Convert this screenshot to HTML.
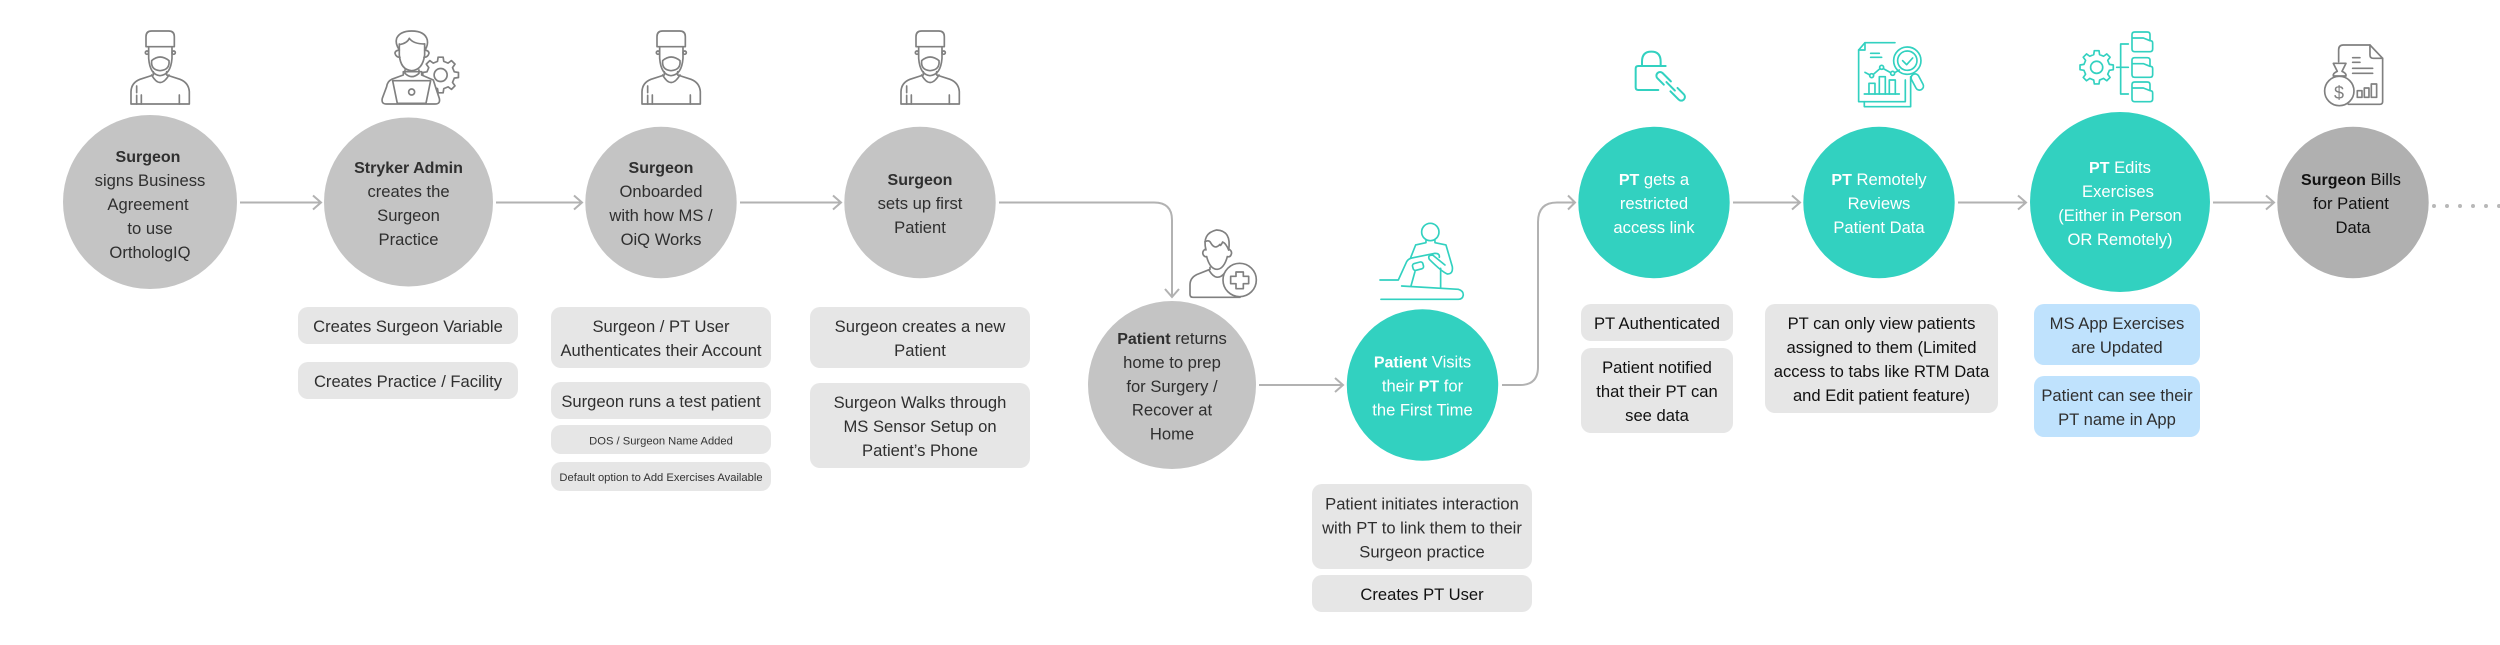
<!DOCTYPE html>
<html><head><meta charset="utf-8"><style>
html,body{margin:0;padding:0;background:#fff;width:2500px;height:645px;overflow:hidden}
svg{display:block}
text{font-family:"Liberation Sans",sans-serif;font-size:16.6px;text-anchor:middle;fill:#2f2f2f}
.w{fill:#fff}
.k{fill:#111}
.s{font-size:11.2px;fill:#333}
.b{font-weight:700;font-size:16px}
.i{fill:none;stroke:#808080;stroke-width:5;stroke-linecap:round;stroke-linejoin:round}
.t{fill:none;stroke:#32d1c0;stroke-width:5;stroke-linecap:round;stroke-linejoin:round}
.c{fill:none;stroke:#b2b2b2;stroke-width:2}
</style></head><body>
<svg width="2500" height="645" viewBox="0 0 2500 645" xmlns="http://www.w3.org/2000/svg">
<defs>
<g id="surg">
<path d="M78,80V50Q78,33 95,33H146Q163,33 163,50V80Z"/>
<path d="M86,80V115Q90,165 120,167Q152,165 156,115V80"/>
<path d="M95,122Q120,100 147,122Q150,150 120,152Q92,150 95,122Z"/>
<circle cx="81" cy="98" r="5"/><circle cx="161" cy="98" r="5"/>
<path d="M100,155V165L60,178Q34,188 33,215V252H208V215Q206,188 180,178L140,165V155"/>
<path d="M95,165Q120,210 147,165"/>
<path d="M50,198V218M50,226V252M64,225V252M178,225V252"/>
</g>
<polygon id="gear" points="13.64,-3.15 17.83,-2.5 17.83,2.5 13.64,3.15 11.87,7.42 14.38,10.84 10.84,14.38 7.42,11.87 3.15,13.64 2.5,17.83 -2.5,17.83 -3.15,13.64 -7.42,11.87 -10.84,14.38 -14.38,10.84 -11.87,7.42 -13.64,3.15 -17.83,2.5 -17.83,-2.5 -13.64,-3.15 -11.87,-7.42 -14.38,-10.84 -10.84,-14.38 -7.42,-11.87 -3.15,-13.64 -2.5,-17.83 2.5,-17.83 3.15,-13.64 7.42,-11.87 10.84,-14.38 14.38,-10.84 11.87,-7.42"/>
<path id="fold" d="M224,36H262Q270,36 270,44V62H271Q278,62 278,69V87Q278,95 270,95H224Q216,95 216,87V44Q216,36 224,36ZM216,54H250L270,62"/>
</defs>

<!-- circles -->
<circle cx="150" cy="202" r="87" fill="#c4c4c4"/>
<circle cx="408.5" cy="202" r="84.5" fill="#c4c4c4"/>
<circle cx="661" cy="202.500" r="75.700" fill="#c4c4c4"/>
<circle cx="920" cy="202.500" r="75.700" fill="#c4c4c4"/>
<circle cx="1172" cy="385" r="84" fill="#c4c4c4"/>
<circle cx="1422.500" cy="385" r="75.700" fill="#32d1c0"/>
<circle cx="1654" cy="202.500" r="75.700" fill="#32d1c0"/>
<circle cx="1879" cy="202.500" r="75.700" fill="#32d1c0"/>
<circle cx="2120" cy="202" r="90" fill="#32d1c0"/>
<circle cx="2353" cy="202.500" r="75.700" fill="#b0b0b0"/>

<!-- connectors -->
<path class="c" d="M240,202.500H320M313,195.500L321,202.500L313,209.500"/>
<path class="c" d="M496,202.500H581M574,195.500L582,202.500L574,209.500"/>
<path class="c" d="M740,202.500H840M833,195.500L841,202.500L833,209.500"/>
<path class="c" d="M999,202.500H1154Q1172,202.500 1172,220V296M1165,289L1172,297L1179,289"/>
<path class="c" d="M1259,385H1342M1335,378L1343,385L1335,392"/>
<path class="c" d="M1502,385H1520Q1538,385 1538,367V222Q1538,202.500 1557,202.500H1574M1568,195.500L1575,202.500L1568,209.500"/>
<path class="c" d="M1733,202.500H1799M1792,195.500L1800,202.500L1792,209.500"/>
<path class="c" d="M1958,202.500H2025M2018,195.500L2026,202.500L2018,209.500"/>
<path class="c" d="M2213,202.500H2273M2266,195.500L2274,202.500L2266,209.500"/>
<g fill="#b8b8b8"><circle cx="2434" cy="206" r="2"/><circle cx="2447" cy="206" r="2"/><circle cx="2460" cy="206" r="2"/><circle cx="2473" cy="206" r="2"/><circle cx="2486" cy="206" r="2"/><circle cx="2499" cy="206" r="2"/></g>

<!-- boxes -->
<g fill="#e6e6e6">
<rect x="298" y="307" width="220" height="37" rx="10"/>
<rect x="298" y="362" width="220" height="37" rx="10"/>
<rect x="551" y="307" width="220" height="61" rx="10"/>
<rect x="551" y="382" width="220" height="37" rx="10"/>
<rect x="551" y="425" width="220" height="29" rx="10"/>
<rect x="551" y="462" width="220" height="29" rx="10"/>
<rect x="810" y="307" width="220" height="61" rx="10"/>
<rect x="810" y="383" width="220" height="85" rx="10"/>
<rect x="1312" y="484" width="220" height="85" rx="10"/>
<rect x="1312" y="575" width="220" height="37" rx="10"/>
<rect x="1581" y="304" width="152" height="37" rx="10"/>
<rect x="1581" y="348" width="152" height="85" rx="10"/>
<rect x="1765" y="304" width="233" height="109" rx="10"/>
</g>
<g fill="#bfe2fd">
<rect x="2034" y="304" width="166" height="61" rx="10"/>
<rect x="2034" y="376" width="166" height="61" rx="10"/>
</g>

<!-- circle text -->
<text x="148" y="162" class="b">Surgeon</text>
<text x="150" y="186">signs Business</text>
<text x="148" y="210">Agreement</text>
<text x="150" y="234">to use</text>
<text x="150" y="258">OrthologIQ</text>

<text x="408.500" y="173" class="b">Stryker Admin</text>
<text x="408.500" y="197">creates the</text>
<text x="408.500" y="221">Surgeon</text>
<text x="408.500" y="245">Practice</text>

<text x="661" y="173" class="b">Surgeon</text>
<text x="661" y="197">Onboarded</text>
<text x="661" y="221">with how MS /</text>
<text x="661" y="245">OiQ Works</text>

<text x="920" y="185" class="b">Surgeon</text>
<text x="920" y="209">sets up first</text>
<text x="920" y="233">Patient</text>

<text x="1172" y="344"><tspan class="b">Patient</tspan> returns</text>
<text x="1172" y="368">home to prep</text>
<text x="1172" y="392">for Surgery /</text>
<text x="1172" y="415.500">Recover at</text>
<text x="1172" y="439.500">Home</text>

<text x="1422.500" y="367.500" class="w"><tspan class="b">Patient</tspan> Visits</text>
<text x="1422.500" y="391.500" class="w">their <tspan class="b">PT</tspan> for</text>
<text x="1422.500" y="415.500" class="w">the First Time</text>

<text x="1654" y="185" class="w"><tspan class="b">PT</tspan> gets a</text>
<text x="1654" y="209" class="w">restricted</text>
<text x="1654" y="233" class="w">access link</text>

<text x="1879" y="185" class="w"><tspan class="b">PT</tspan> Remotely</text>
<text x="1879" y="209" class="w">Reviews</text>
<text x="1879" y="233" class="w">Patient Data</text>

<text x="2120" y="173" class="w"><tspan class="b">PT</tspan> Edits</text>
<text x="2118" y="197" class="w">Exercises</text>
<text x="2120" y="221" class="w">(Either in Person</text>
<text x="2120" y="245" class="w">OR Remotely)</text>

<text x="2351" y="185" class="k"><tspan class="b">Surgeon</tspan> Bills</text>
<text x="2351" y="209" class="k">for Patient</text>
<text x="2353" y="233" class="k">Data</text>

<!-- box text -->
<text x="408" y="332">Creates Surgeon Variable</text>
<text x="408" y="387">Creates Practice / Facility</text>
<text x="661" y="332">Surgeon / PT User</text>
<text x="661" y="356">Authenticates their Account</text>
<text x="661" y="407">Surgeon runs a test patient</text>
<text x="661" y="444.500" class="s">DOS / Surgeon Name Added</text>
<text x="661" y="481" class="s">Default option to Add Exercises Available</text>
<text x="920" y="332">Surgeon creates a new</text>
<text x="920" y="356">Patient</text>
<text x="920" y="408">Surgeon Walks through</text>
<text x="920" y="432">MS Sensor Setup on</text>
<text x="920" y="456">Patient’s Phone</text>
<text x="1422" y="509.500">Patient initiates interaction</text>
<text x="1422" y="533.500">with PT to link them to their</text>
<text x="1422" y="557.500">Surgeon practice</text>
<text x="1422" y="600" class="k">Creates PT User</text>
<text x="1657" y="329" class="k">PT Authenticated</text>
<text x="1657" y="373" class="k">Patient notified</text>
<text x="1657" y="397" class="k">that their PT can</text>
<text x="1657" y="421" class="k">see data</text>
<text x="1881.500" y="329" class="k">PT can only view patients</text>
<text x="1881.500" y="353" class="k">assigned to them (Limited</text>
<text x="1881.500" y="377" class="k">access to tabs like RTM Data</text>
<text x="1881.500" y="401" class="k">and Edit patient feature)</text>
<text x="2117" y="329">MS App Exercises</text>
<text x="2117" y="353">are Updated</text>
<text x="2117" y="401">Patient can see their</text>
<text x="2117" y="425">PT name in App</text>

<!-- surgeon icons -->
<g class="i" transform="translate(120,20) scale(.3333)"><use href="#surg"/></g>
<g class="i" transform="translate(631,20) scale(.3333)"><use href="#surg"/></g>
<g class="i" transform="translate(890,20) scale(.3333)"><use href="#surg"/></g>

<!-- admin icon -->
<g class="i" transform="translate(120,20) scale(.3333)">
<g transform="translate(962,165) scale(3)"><use href="#gear" style="fill:#fff;stroke-width:1.7"/><circle r="6.500" style="stroke-width:1.7"/></g>
<path style="fill:#fff" d="M850,155V165L815,178Q802,184 800,200L787,235Q783,252 800,252H945Q962,252 958,235L948,205L940,180L905,165V155Z"/>
<path d="M838,90Q825,70 830,55Q840,33 875,33Q915,33 922,60Q925,75 915,90"/>
<path d="M838,72V105Q842,150 875,152Q908,150 914,105V72"/>
<path d="M838,74Q862,70 868,55Q880,72 914,72"/>
<path d="M838,90Q825,92 825,100Q828,112 840,112M914,90Q927,92 927,100Q924,112 912,112"/>
<path d="M855,150V160Q875,180 897,160V150"/>
<path d="M818,182H932L918,250H832Z"/>
<circle cx="875" cy="216" r="9"/>
</g>

<!-- patient icon -->
<g class="i" transform="translate(1150,200) scale(.3333)">
<path d="M168,150Q155,100 200,90Q245,92 236,150"/>
<path d="M165,125Q178,118 183,130Q195,150 210,133Q210,142 218,126Q228,130 236,150"/>
<path d="M165,148Q155,155 160,165Q165,172 170,170M238,148Q248,155 243,165Q240,172 232,170"/>
<path d="M170,170Q180,208 202,208Q222,206 232,170"/>
<path d="M180,202V208L140,224Q120,234 120,255V283Q120,292 130,292H270"/>
<path d="M178,212Q200,248 225,218"/>
<circle cx="269" cy="240" r="50" style="fill:#fff"/>
<path d="M258,216H280V229H296V251H280V266H258V251H242V229H258Z"/>
</g>

<!-- PT icon -->
<g class="t" transform="translate(1150,200) scale(.3333)">
<circle cx="841" cy="96" r="26"/>
<path d="M690,240H745L770,185Q775,175 790,173L855,160Q870,160 868,172"/>
<path d="M828,122V128L797,135L782,173"/>
<path d="M855,122V128L888,135L907,200Q910,222 892,222Q875,215 838,178Q832,165 848,165L885,195"/>
<rect x="788" y="188" width="32" height="21" rx="7" transform="rotate(-15 804 198)"/>
<path d="M795,215L783,258M872,205V264"/>
<path d="M755,258L925,268Q940,272 940,285Q938,298 925,298H693"/>
</g>

<!-- lock icon -->
<g class="t" transform="translate(1620,30) scale(.3333)" style="stroke-width:6">
<path d="M66,105V95Q66,65 94,65Q122,65 122,95V105"/>
<path d="M137,108H55Q47,108 47,116V172Q47,180 55,180H115"/>
<path transform="translate(152,169) rotate(45)" d="M-10,-11H-45A11,11 0 0 0 -45,11H-18M10,11H45A11,11 0 0 0 45,-11H18M-18,0H18"/>
</g>

<!-- chart icon -->
<g class="t" transform="translate(1620,30) scale(.3333)">
<path d="M825,38H735L716,60V215H856V150"/>
<path d="M735,38V60H716"/>
<path d="M733,215V230H872V140"/>
<circle cx="862" cy="92" r="41"/><circle cx="862" cy="92" r="29"/>
<path d="M848,92L860,104L878,84"/>
<rect x="880" y="130" width="24" height="52" rx="12" transform="rotate(-28 892 156)"/>
<path d="M752,70H778M752,82H785"/>
<path d="M733,192H838"/>
<path d="M747,192V160H765V192M778,192V140H796V192M808,192V150H826V192"/>
<path d="M735,127L750,135M760,133L780,116M790,116L812,128M824,128L838,120"/>
<circle cx="755" cy="137" r="6"/><circle cx="785" cy="112" r="6"/><circle cx="818" cy="130" r="6"/>
</g>

<!-- gear and folders icon -->
<g class="t" transform="translate(2060,20) scale(.3333)">
<g transform="translate(110,142) scale(2.8)"><use href="#gear" style="stroke-width:1.800"/><circle r="6.500" style="stroke-width:1.800"/></g>
<path d="M170,142H205M205,72H182V222H205"/>
<use href="#fold"/>
<use href="#fold" y="77"/>
<use href="#fold" y="150"/>
</g>

<!-- bill icon -->
<g class="i" transform="translate(2060,20) scale(.3333)">
<path d="M836,125V90Q836,75 850,75H930L968,115V245Q968,253 960,253H865"/>
<path d="M930,75V105Q930,115 940,115H968"/>
<path d="M878,113H900M878,127H900M878,145H938M878,160H938"/>
<circle cx="838" cy="213" r="44"/>
<path d="M820,130H858L846,154Q860,160 858,168H820Q818,160 832,154Z"/>
<rect x="892" y="212" width="14" height="20"/><rect x="913" y="204" width="14" height="28"/><rect x="934" y="192" width="16" height="40"/>
</g>
<text x="2339" y="99" style="font-size:18px;fill:#808080">$</text>
</svg>
</body></html>
